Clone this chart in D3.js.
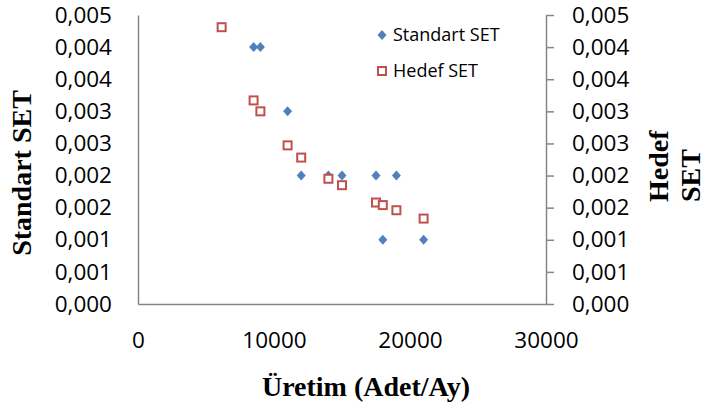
<!DOCTYPE html>
<html>
<head>
<meta charset="UTF-8">
<title>Standart SET / Hedef SET</title>
<script src="https://d3js.org/d3.v7.min.js"></script>
<style>
  body { margin: 0; background: #fff; }
  svg { display: block; }
  .tick text { font-family: "Open Sans", sans-serif; font-size: 22.5px; fill: #000; }
  .axis path, .axis line { stroke: #868686; stroke-width: 1.5; }
  .title { font-family: "Liberation Serif", serif; font-weight: bold; font-size: 28px; }
  .legend text { font-family: "Open Sans", sans-serif; font-size: 18px; }
</style>
</head>
<body>
<svg width="705" height="408"></svg>
<script>
// production (units / month)
const standartX = [8500, 9000, 11000, 12000, 14000, 15000, 17500, 19000, 18000, 21000];
const standartY = [0.004, 0.004, 0.003, 0.002, 0.002, 0.002, 0.002, 0.002, 0.001, 0.001];
const hedefX = [6150, 8500, 9000, 11000, 12000, 14000, 15000, 17500, 18000, 19000, 21000];
const hedefY = [0.00431, 0.00317, 0.00300, 0.00247, 0.00228, 0.00195, 0.00185, 0.00158, 0.00154, 0.00146, 0.00133];

const xTicks = [0, 10000, 20000, 30000];
const yTicks = [0, 0.0005, 0.001, 0.0015, 0.002, 0.0025, 0.003, 0.0035, 0.004, 0.0045];
const yTickLabels = ["0,000", "0,001", "0,001", "0,002", "0,002", "0,003", "0,003", "0,004", "0,004", "0,005"];

const seriesNames = ["Standart SET", "Hedef SET"];
const blue = "#4F81BD", red = "#C0504D";

const svg = d3.select("svg");
const x = d3.scaleLinear().domain([0, 30000]).range([138, 546]);
const y = d3.scaleLinear().domain([0, 0.0045]).range([304, 15]);
const yLabel = v => yTickLabels[yTicks.indexOf(v)];

svg.append("g").attr("class", "axis")
  .attr("transform", "translate(0,304)")
  .call(d3.axisBottom(x).tickValues(xTicks).tickSize(0).tickPadding(28).tickFormat(d3.format("d")));

svg.append("g").attr("class", "axis")
  .attr("transform", "translate(138,0)")
  .call(d3.axisLeft(y).tickValues(yTicks).tickSize(0).tickPadding(26).tickFormat(yLabel));

svg.append("g").attr("class", "axis")
  .attr("transform", "translate(546,0)")
  .call(d3.axisRight(y).tickValues(yTicks).tickSizeInner(8).tickSizeOuter(0).tickPadding(18).tickFormat(yLabel));

const diamond = "M0,-5L4.5,0L0,5L-4.5,0Z";

svg.append("g").selectAll("path")
  .data(d3.zip(standartX, standartY))
  .join("path")
  .attr("d", diamond)
  .attr("transform", d => `translate(${x(d[0])},${y(d[1])})`)
  .attr("fill", blue);

svg.append("g").selectAll("rect")
  .data(d3.zip(hedefX, hedefY))
  .join("rect")
  .attr("x", d => x(d[0]) - 4)
  .attr("y", d => y(d[1]) - 4)
  .attr("width", 8).attr("height", 8)
  .attr("fill", "#fff").attr("stroke", red).attr("stroke-width", 2);

// legend
const legend = svg.append("g").attr("class", "legend");
legend.append("path").attr("d", diamond).attr("transform", "translate(382,35)").attr("fill", blue);
legend.append("rect").attr("x", 378).attr("y", 67).attr("width", 8).attr("height", 8)
  .attr("fill", "#fff").attr("stroke", red).attr("stroke-width", 2);
legend.selectAll("text").data(seriesNames).join("text")
  .attr("x", 393).attr("y", (d, i) => 35 + i * 36)
  .attr("dy", "0.35em").text(d => d);

// axis titles
svg.append("text").attr("class", "title")
  .attr("x", 366).attr("y", 396).attr("text-anchor", "middle")
  .text("Üretim (Adet/Ay)");

svg.append("text").attr("class", "title")
  .attr("transform", "translate(31,173) rotate(-90)")
  .attr("text-anchor", "middle")
  .text("Standart SET");

const right = svg.append("text").attr("class", "title")
  .attr("transform", "translate(668,202) rotate(-90)");
right.append("tspan").attr("x", 0).attr("y", 0).text("Hedef");
right.append("tspan").attr("x", 0).attr("y", 32).text("SET");
</script>
</body>
</html>
